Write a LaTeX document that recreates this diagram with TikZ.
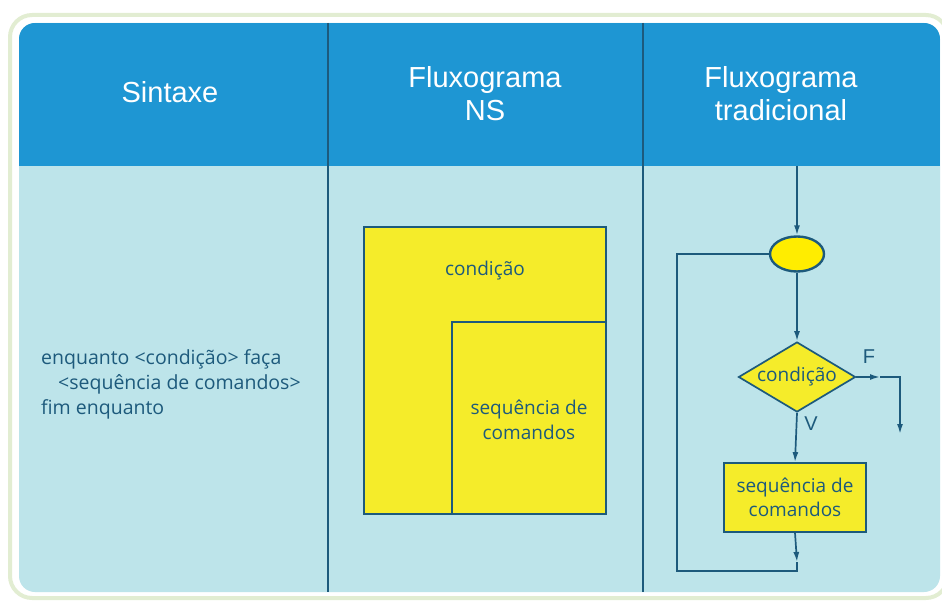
\documentclass[tikz,border=0pt]{standalone}
\usepackage{fontspec}
\setmainfont{Open Sans}
\newfontfamily\headfont{Liberation Sans}
\usetikzlibrary{shapes.geometric,arrows.meta}
\definecolor{frame}{HTML}{E2EDD2}
\definecolor{headblue}{HTML}{1E96D3}
\definecolor{bodyblue}{HTML}{BDE4EA}
\definecolor{ink}{HTML}{1D5A7C}
\definecolor{yel}{HTML}{F5EC2A}
\definecolor{yel2}{HTML}{FFED00}
\tikzset{
  headtxt/.style={font=\headfont\fontsize{29}{33}\selectfont, text=white, align=center},
  bodytxt/.style={font=\fontsize{19}{24.5}\selectfont, text=ink, align=center},
  ybox/.style={draw=ink, line width=1.7pt, fill=yel},
  flow/.style={draw=ink, line width=1.7pt},
  arr/.style={flow, -{Latex[length=10pt,width=6pt]}},
}
\begin{document}
\begin{tikzpicture}[x=1pt,y=-1pt]
\useasboundingbox (0,0) rectangle (942,601);
% frame
\draw[frame, line width=4pt, fill=white, rounded corners=22pt] (10,15) rectangle (948,598);
\fill[bodyblue, rounded corners=16pt] (19,23) rectangle (940,592);
\begin{scope}
  \clip[rounded corners=16pt] (19,23) rectangle (940,592);
  \fill[headblue] (19,23) rectangle (940,166);
\end{scope}
% dividers
\draw[ink, line width=1.7pt] (328,23) -- (328,592);
\draw[ink, line width=1.7pt] (643,23) -- (643,592);
% headers
\node[headtxt] (h1) at (170,92) {Sintaxe};
\node[headtxt] (h2) at (485,94) {Fluxograma\\NS};
\node[headtxt] (h3) at (781,94) {Fluxograma\\tradicional};
% syntax
\node[bodytxt, font=\fontsize{19.5}{25}\selectfont, align=left, anchor=west, inner sep=0pt] (syn) at (41,384)
  {enquanto <condição> faça\\\hspace*{17pt}<sequência de comandos>\\fim enquanto};
% NS chart
\draw[ybox] (364,227) rectangle (606,514);
\draw[ybox] (452,322) rectangle (606,514);
\node[bodytxt] (nscond) at (485,271) {condição};
\node[bodytxt] (nsseq) at (529,420) {sequência de\\comandos};
% traditional flowchart
\coordinate (top) at (797,166);
\node[ellipse, draw=ink, line width=2.4pt, fill=yel2, minimum width=54pt, minimum height=35pt, inner sep=0pt] (ell) at (797,254) {};
\node[diamond, ybox, minimum width=117pt, minimum height=70pt, inner sep=0pt, aspect=1.67] (dec) at (797,377) {};
\node[bodytxt] (dectxt) at (797,377) {condição};
\node[ybox, minimum width=142pt, minimum height=69pt, inner sep=0pt, bodytxt] (seq) at (795,497.5) {sequência de\\comandos};
\coordinate (fmid) at (880,377);
\coordinate (fcorner) at (900,377);
\coordinate (fend) at (900,434);
\coordinate (lmid) at (797,562);
\coordinate (lb) at (797,571);
\coordinate (lbl) at (677,571);
\coordinate (ltl) at (677,254);
\draw[arr] (top) -- (ell.north);
\draw[arr] (ell.south) -- (dec.north);
\draw[arr] (dec.east) -- (fmid);
\draw[arr] (fmid) -- (fcorner) -- (fend);
\draw[arr] (dec.south) -- (seq.north);
\draw[arr] (seq.south) -- (lmid);
\draw[flow] (lmid) -- (lb) -- (lbl) -- (ltl) -- (ell.west);
\node[font=\headfont\fontsize{20}{22}\selectfont, text=ink] (F) at (869,357) {F};
\node[font=\headfont\fontsize{20}{22}\selectfont, text=ink] (V) at (811,424) {V};
\end{tikzpicture}
\end{document}
